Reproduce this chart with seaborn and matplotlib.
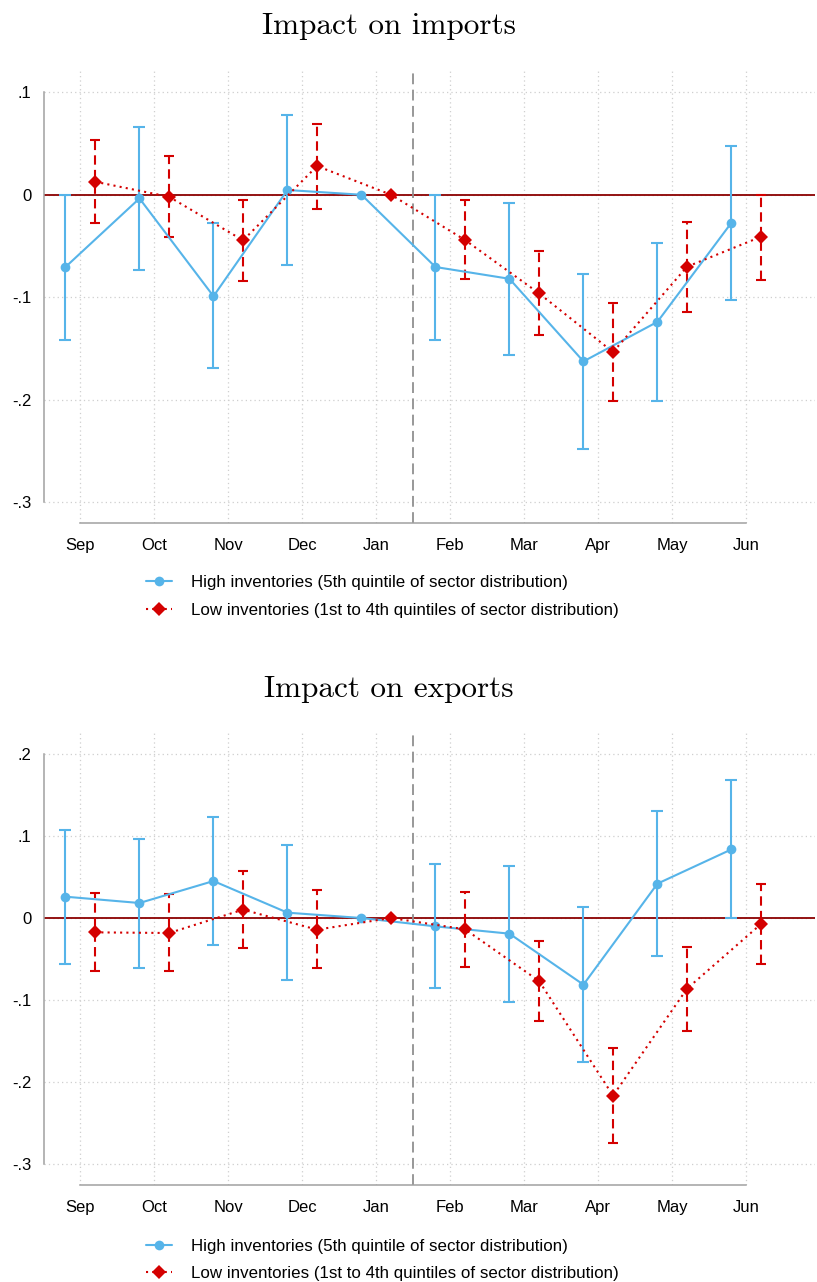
import numpy as np
import pandas as pd
import matplotlib
matplotlib.use("Agg")
import matplotlib.pyplot as plt
import seaborn as sns

# ---- data ----
MONTHS = ["Sep", "Oct", "Nov", "Dec", "Jan", "Feb", "Mar", "Apr", "May", "Jun"]

# Impact on imports
IMP_HIGH = [-0.0705, -0.0036, -0.099, 0.0046, 0.0, -0.0705, -0.082, -0.1626, -0.124, -0.0273]
IMP_HIGH_LO = [-0.1418, -0.073, -0.169, -0.069, 0.0, -0.1418, -0.156, -0.248, -0.201, -0.1024]
IMP_HIGH_HI = [0.0, 0.066, -0.028, 0.078, 0.0, 0.0, -0.0078, -0.077, -0.047, 0.0475]
IMP_LOW = [0.0127, -0.002, -0.0445, 0.028, 0.0, -0.0442, -0.0962, -0.1535, -0.0702, -0.041]
IMP_LOW_LO = [-0.0273, -0.041, -0.084, -0.0137, 0.0, -0.0823, -0.137, -0.2013, -0.114, -0.083]
IMP_LOW_HI = [0.053, 0.038, -0.0052, 0.069, 0.0, -0.005, -0.0553, -0.106, -0.0263, 0.0]

# Impact on exports
EXP_HIGH = [0.026, 0.0183, 0.0451, 0.0065, 0.0, -0.0102, -0.0191, -0.0813, 0.0419, 0.0837]
EXP_HIGH_LO = [-0.0557, -0.0606, -0.0333, -0.0752, 0.0, -0.0858, -0.102, -0.176, -0.0463, 0.0]
EXP_HIGH_HI = [0.1077, 0.0967, 0.1236, 0.0886, 0.0, 0.0659, 0.0634, 0.0134, 0.130, 0.168]
EXP_LOW = [-0.0175, -0.0183, 0.0102, -0.0142, 0.0, -0.0138, -0.0768, -0.2167, -0.0862, -0.0073]
EXP_LOW_LO = [-0.065, -0.065, -0.0362, -0.0614, 0.0, -0.0598, -0.1256, -0.2744, -0.1382, -0.0561]
EXP_LOW_HI = [0.030, 0.0289, 0.0569, 0.0337, 0.0, 0.0317, -0.0285, -0.159, -0.035, 0.041]

LABEL_HIGH = "High inventories (5th quintile of sector distribution)"
LABEL_LOW = "Low inventories (1st to 4th quintiles of sector distribution)"

BLUE = "#56B4E9"
RED = "#D40000"
MAROON = "#8B0000"
GRID = "#cfcfcf"
AXIS = "#a0a0a0"

sns.set_style("white")
plt.rcParams["font.family"] = ["Liberation Sans", "DejaVu Sans"]
plt.rcParams["legend.numpoints"] = 1
plt.rcParams["text.color"] = "black"
plt.rcParams["xtick.labelcolor"] = "black"
plt.rcParams["ytick.labelcolor"] = "black"


def make_df(high, high_lo, high_hi, low, low_lo, low_hi):
    idx = np.arange(len(MONTHS))
    a = pd.DataFrame({"pos": idx - 0.2, "coef": high, "lo": high_lo, "hi": high_hi, "group": "high"})
    b = pd.DataFrame({"pos": idx + 0.2, "coef": low, "lo": low_lo, "hi": low_hi, "group": "low"})
    return pd.concat([a, b], ignore_index=True)


def draw_panel(ax, df, yticks, yticklabels, ylim):
    ax.set_xlim(-0.49, 9.93)
    ax.set_ylim(*ylim)

    # grid, zero line, event line
    for yt in yticks:
        ax.axhline(yt, color=GRID, lw=0.9, ls=(0, (1, 2.5)), zorder=0.5)
    for xt in range(len(MONTHS)):
        ax.axvline(xt, color=GRID, lw=0.9, ls=(0, (1, 2.5)), zorder=0.5)
    ax.axhline(0, color=MAROON, lw=1.3, zorder=1.5)
    ax.axvline(4.5, color="#909090", lw=1.3, ls=(0, (6, 3)), zorder=1.5)

    hi_df = df[df["group"] == "high"]
    lo_df = df[df["group"] == "low"]

    # confidence intervals (skip the reference month)
    h = hi_df[hi_df["hi"] != hi_df["lo"]]
    ax.errorbar(h["pos"], (h["lo"] + h["hi"]) / 2, yerr=(h["hi"] - h["lo"]) / 2,
                fmt="none", ecolor=BLUE, elinewidth=1.5, capsize=4, capthick=1.5, zorder=2)
    l = lo_df[lo_df["hi"] != lo_df["lo"]]
    eb2 = ax.errorbar(l["pos"], (l["lo"] + l["hi"]) / 2, yerr=(l["hi"] - l["lo"]) / 2,
                      fmt="none", ecolor=RED, elinewidth=1.5, capsize=3.5, capthick=1.5, zorder=2)
    for col in eb2[2]:
        col.set_linestyle((0, (4.5, 2.5)))

    sns.lineplot(data=hi_df, x="pos", y="coef", ax=ax, color=BLUE, lw=1.5, marker="o",
                 markersize=7, markeredgewidth=0, sort=False, estimator=None,
                 label=LABEL_HIGH, zorder=3)
    sns.lineplot(data=lo_df, x="pos", y="coef", ax=ax, color=RED, lw=1.5, ls=(0, (1, 2)),
                 marker="D", markersize=7, markeredgewidth=0, sort=False, estimator=None,
                 label=LABEL_LOW, zorder=3)

    ax.set_xticks(range(len(MONTHS)))
    ax.set_xticklabels(MONTHS)
    ax.set_yticks(yticks)
    ax.set_yticklabels(yticklabels)
    ax.set_xlabel("")
    ax.set_ylabel("")
    ax.tick_params(axis="both", labelsize=12, length=6, width=1.1, color=AXIS, pad=3,
                   labelcolor="black")
    ax.tick_params(axis="x", pad=5)

    for s in ["top", "right"]:
        ax.spines[s].set_visible(False)
    ax.spines["left"].set_bounds(yticks[0], yticks[-1])
    ax.spines["bottom"].set_bounds(0, len(MONTHS) - 1)
    for s in ["left", "bottom"]:
        ax.spines[s].set_color(AXIS)
        ax.spines[s].set_linewidth(1.1)
    leg = ax.get_legend()
    if leg is not None:
        leg.remove()


fig = plt.figure(figsize=(8.17, 12.82), dpi=100)

ax1 = fig.add_axes([0.0539, 0.592, 0.9437, 0.3534])
df_imp = make_df(IMP_HIGH, IMP_HIGH_LO, IMP_HIGH_HI, IMP_LOW, IMP_LOW_LO, IMP_LOW_HI)
draw_panel(ax1, df_imp, [-0.3, -0.2, -0.1, 0.0, 0.1], ["-.3", "-.2", "-.1", "0", ".1"], (-0.3203, 0.1217))

ax2 = fig.add_axes([0.0539, 0.0757, 0.9437, 0.3525])
df_exp = make_df(EXP_HIGH, EXP_HIGH_LO, EXP_HIGH_HI, EXP_LOW, EXP_LOW_LO, EXP_LOW_HI)
draw_panel(ax2, df_exp, [-0.3, -0.2, -0.1, 0.0, 0.1, 0.2], ["-.3", "-.2", "-.1", "0", ".1", ".2"],
           (-0.3256, 0.2256))

fig.text(0.476, 0.9735, "Impact on imports", family="cmr10", fontsize=22.5, ha="center", va="baseline")
fig.text(0.476, 0.4563, "Impact on exports", family="cmr10", fontsize=22.5, ha="center", va="baseline")

for ax, yc in [(ax1, 0.5347), (ax2, 0.0172)]:
    handles = ax.get_lines()
    hh = [ln for ln in handles if ln.get_label() in (LABEL_HIGH, LABEL_LOW)]
    fig.legend(hh, [ln.get_label() for ln in hh], loc="center left",
               bbox_to_anchor=(146 / 817, yc), frameon=False, fontsize=12.2,
               handlelength=1.55, handletextpad=1.1, labelspacing=0.75,
               borderpad=0, borderaxespad=0)

fig.savefig("out.png", dpi=100)
